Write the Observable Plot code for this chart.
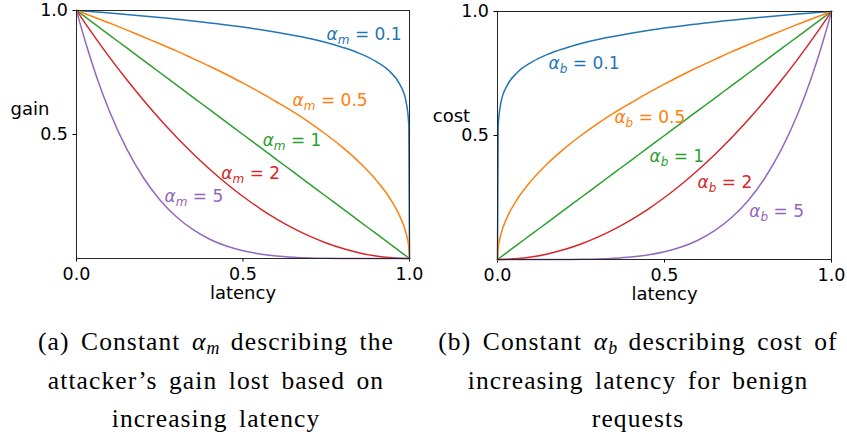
<!DOCTYPE html>
<html>
<head>
<meta charset="utf-8">
<script src="https://cdn.jsdelivr.net/npm/d3@7"></script>
<script src="https://cdn.jsdelivr.net/npm/@observablehq/plot@0.6"></script>
<style>
  body { margin: 0; background: white; }
  #wrap { position: relative; width: 847px; height: 443px; overflow: hidden; background: white; }
  .panel { position: absolute; top: 0; }
  #wrap svg text { font-family: "DejaVu Sans", sans-serif; }
  .cap { position: absolute; top: 323px; width: 460px; text-align: center; font-family: "Liberation Serif", serif;
         font-size: 25.5px; line-height: 38.5px; letter-spacing: 1.1px; word-spacing: 4px; white-space: nowrap; color: #000; }
  .cap sub { font-size: 70%; line-height: 0; vertical-align: -0.25em; letter-spacing: 0; }
</style>
</head>
<body>
<div id="wrap">
  <div id="pa" class="panel" style="left:0px"></div>
  <div id="pb" class="panel" style="left:423px"></div>
  <div class="cap" style="left:-14px">(a) Constant <i>α<sub>m</sub></i> describing the<br>attacker’s gain lost based on<br>increasing latency</div>
  <div class="cap" style="left:408px">(b) Constant <i>α<sub>b</sub></i> describing cost of<br>increasing latency for benign<br>requests</div>
</div>
<script>
// ---- data ----
const latency = [0, 0.002, 0.01, 0.03, 0.06, 0.1, 0.15, 0.2, 0.25, 0.3, 0.35, 0.4, 0.45, 0.5, 0.55, 0.6, 0.65, 0.7, 0.75, 0.8, 0.85, 0.9, 0.94, 0.97, 0.99, 0.998, 1];

// panel (a): attacker's gain
const gainAlpha01 = [1, 1.000, 0.999, 0.997, 0.994, 0.990, 0.984, 0.978, 0.972, 0.965, 0.958, 0.950, 0.942, 0.933, 0.923, 0.912, 0.900, 0.887, 0.871, 0.851, 0.827, 0.794, 0.755, 0.704, 0.631, 0.537, 0];
const gainAlpha05 = [1, 0.999, 0.995, 0.985, 0.970, 0.949, 0.922, 0.894, 0.866, 0.837, 0.806, 0.775, 0.742, 0.707, 0.671, 0.632, 0.592, 0.548, 0.500, 0.447, 0.387, 0.316, 0.245, 0.173, 0.100, 0.045, 0];
const gainAlpha1  = [1, 0.998, 0.99, 0.97, 0.94, 0.9, 0.85, 0.8, 0.75, 0.7, 0.65, 0.6, 0.55, 0.5, 0.45, 0.4, 0.35, 0.3, 0.25, 0.2, 0.15, 0.1, 0.06, 0.03, 0.01, 0.002, 0];
const gainAlpha2  = [1, 0.996, 0.9801, 0.9409, 0.8836, 0.81, 0.7225, 0.64, 0.5625, 0.49, 0.4225, 0.36, 0.3025, 0.25, 0.2025, 0.16, 0.1225, 0.09, 0.0625, 0.04, 0.0225, 0.01, 0.0036, 0.0009, 0.0001, 0, 0];
const gainAlpha5  = [1, 0.990, 0.951, 0.8587, 0.7339, 0.5905, 0.4437, 0.3277, 0.2373, 0.1681, 0.1160, 0.0778, 0.0503, 0.0313, 0.0185, 0.0102, 0.0053, 0.0024, 0.001, 0.0003, 0.0001, 0.00001, 0, 0, 0, 0, 0];

// panel (b): benign cost
const costAlpha01 = [0, 0.537, 0.631, 0.704, 0.755, 0.794, 0.827, 0.851, 0.871, 0.887, 0.900, 0.912, 0.923, 0.933, 0.942, 0.950, 0.958, 0.965, 0.972, 0.978, 0.984, 0.990, 0.994, 0.997, 0.999, 1.000, 1];
const costAlpha05 = [0, 0.045, 0.100, 0.173, 0.245, 0.316, 0.387, 0.447, 0.500, 0.548, 0.592, 0.632, 0.671, 0.707, 0.742, 0.775, 0.806, 0.837, 0.866, 0.894, 0.922, 0.949, 0.970, 0.985, 0.995, 0.999, 1];
const costAlpha1  = [0, 0.002, 0.01, 0.03, 0.06, 0.1, 0.15, 0.2, 0.25, 0.3, 0.35, 0.4, 0.45, 0.5, 0.55, 0.6, 0.65, 0.7, 0.75, 0.8, 0.85, 0.9, 0.94, 0.97, 0.99, 0.998, 1];
const costAlpha2  = [0, 0, 0.0001, 0.0009, 0.0036, 0.01, 0.0225, 0.04, 0.0625, 0.09, 0.1225, 0.16, 0.2025, 0.25, 0.3025, 0.36, 0.4225, 0.49, 0.5625, 0.64, 0.7225, 0.81, 0.8836, 0.9409, 0.9801, 0.996, 1];
const costAlpha5  = [0, 0, 0, 0, 0, 0.00001, 0.0001, 0.0003, 0.001, 0.0024, 0.0053, 0.0102, 0.0185, 0.0313, 0.0503, 0.0778, 0.1160, 0.1681, 0.2373, 0.3277, 0.4437, 0.5905, 0.7339, 0.8587, 0.9510, 0.9900, 1];

const labelsA = ["α_m = 0.1", "α_m = 0.5", "α_m = 1", "α_m = 2", "α_m = 5"];
const labelsB = ["α_b = 0.1", "α_b = 0.5", "α_b = 1", "α_b = 2", "α_b = 5"];
const xTicks = [0, 0.5, 1];
const yTicks = [0.5, 1];

// ---- annotation placement (data coordinates) ----
const labelPosA = [[0.751, 0.905], [0.649, 0.637], [0.559, 0.474], [0.435, 0.343], [0.264, 0.250]];
const labelPosB = [[0.153, 0.790], [0.350, 0.571], [0.455, 0.417], [0.599, 0.310], [0.754, 0.193]];

const colors = ["#1f77b4", "#ff7f0e", "#2ca02c", "#d62728", "#9467bd"];

function panel({series, labels, labelPos, ylabel, width, ml, mr, mt, mb, ylabDx, ylabDy, xlabDy}) {
  const marks = [];
  series.forEach((ys, i) => {
    const rows = latency.map((x, j) => ({x, y: ys[j]}));
    marks.push(Plot.line(rows, {x: "x", y: "y", stroke: colors[i], strokeWidth: 1.5, curve: "monotone-x"}));
  });
  labels.forEach((t, i) => {
    marks.push(Plot.text([{x: labelPos[i][0], y: labelPos[i][1], t}],
      {x: "x", y: "y", text: "t", fill: colors[i], textAnchor: "start", fontSize: 17}));
  });
  marks.push(Plot.frame({stroke: "#262626", strokeWidth: 1}));
  marks.push(Plot.text([ylabel], {text: d => d, frameAnchor: "left", dx: ylabDx, dy: ylabDy, textAnchor: "middle", fontSize: 18, fill: "#000"}));
  marks.push(Plot.text(["latency"], {text: d => d, frameAnchor: "bottom", dy: xlabDy, textAnchor: "middle", fontSize: 18, fill: "#000"}));
  const svg = Plot.plot({
    width, height: 310,
    marginLeft: ml, marginRight: mr, marginTop: mt, marginBottom: mb,
    style: {fontFamily: "DejaVu Sans", fontSize: "17.5px", color: "#000", background: "white", overflow: "visible"},
    x: {domain: [0, 1], ticks: xTicks, tickFormat: ".1f", tickSize: 3.5, tickPadding: 5.5, label: null},
    y: {domain: [0, 1], ticks: yTicks, tickFormat: ".1f", tickSize: 3.5, tickPadding: 5, label: null},
    marks
  });
  const ns = "http://www.w3.org/2000/svg";
  svg.querySelectorAll("text").forEach(t => {
    const m = /^α_(\w) = (.*)$/.exec(t.textContent);
    if (!m) return;
    t.textContent = "";
    const a = document.createElementNS(ns, "tspan");
    a.textContent = "α"; a.setAttribute("font-style", "italic");
    const s = document.createElementNS(ns, "tspan");
    s.textContent = m[1]; s.setAttribute("font-style", "italic"); s.setAttribute("font-size", "12"); s.setAttribute("dy", "4");
    const r = document.createElementNS(ns, "tspan");
    r.textContent = " = " + m[2]; r.setAttribute("dy", "-4");
    t.append(a, s, r);
  });
  return svg;
}

document.getElementById("pa").append(panel({
  series: [gainAlpha01, gainAlpha05, gainAlpha1, gainAlpha2, gainAlpha5],
  labels: labelsA, labelPos: labelPosA, ylabel: "gain",
  width: 423, ml: 76, mr: 14, mt: 10, mb: 52, ylabDx: -46.5, ylabDy: -25, xlabDy: 40.5
}));
document.getElementById("pb").append(panel({
  series: [costAlpha01, costAlpha05, costAlpha1, costAlpha2, costAlpha5],
  labels: labelsB, labelPos: labelPosB, ylabel: "cost",
  width: 424, ml: 74, mr: 16, mt: 11, mb: 51, ylabDx: -46, ylabDy: -19, xlabDy: 40.5
}));
</script>
</body>
</html>
